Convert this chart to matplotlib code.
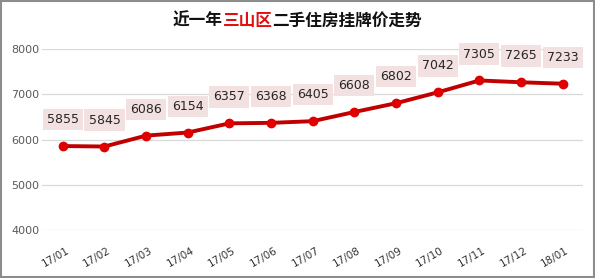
import matplotlib
matplotlib.use("Agg")
import matplotlib.pyplot as plt
import matplotlib.transforms as mtransforms
from matplotlib.patches import Rectangle

plt.rcParams['font.family'] = ['Noto Sans CJK SC', 'DejaVu Sans']

months = ["17/01", "17/02", "17/03", "17/04", "17/05", "17/06", "17/07",
          "17/08", "17/09", "17/10", "17/11", "17/12", "18/01"]
prices = [5855, 5845, 6086, 6154, 6357, 6368, 6405, 6608, 6802, 7042, 7305, 7265, 7233]
yticks = [4000, 5000, 6000, 7000, 8000]
title_parts = [("近一年", "#111111"), ("三山区", "#e01010"), ("二手住房挂牌价走势", "#111111")]

fig = plt.figure(figsize=(5.95, 2.78), dpi=100)
fig.patch.set_facecolor("white")
fig.patches.append(Rectangle((0.002, 0.004), 0.996, 0.992, transform=fig.transFigure,
                             fill=False, edgecolor="#8c8c8c", linewidth=1.5))

ax = fig.add_axes([0.0706, 0.1727, 0.91, 0.651])
x = list(range(len(months)))
ax.plot(x, prices, color="#c00000", linewidth=2.8, marker="o", markersize=6,
        markerfacecolor="#e00000", markeredgecolor="#e00000", zorder=3)

ax.set_xlim(-0.5, len(months) - 0.5)
ax.set_ylim(4000, 8000)
ax.set_yticks(yticks)
ax.set_yticklabels([str(v) for v in yticks], fontsize=8, color="#595959",
                   family=["DejaVu Sans"])
ax.grid(axis="y", color="#d9d9d9", linewidth=0.9)
ax.set_axisbelow(True)
for s in ax.spines.values():
    s.set_visible(False)
ax.tick_params(axis="both", length=0)
ax.tick_params(axis="y", pad=2)

ax.set_xticks(x)
ax.set_xticklabels(months, fontsize=7.5, color="#333333", rotation=30,
                   ha="right", va="top", rotation_mode="anchor",
                   family=["DejaVu Sans"])
ax.tick_params(axis="x", pad=11)
offset = mtransforms.ScaledTranslation(3 / 100, 0, fig.dpi_scale_trans)
for lab in ax.get_xticklabels():
    lab.set_transform(lab.get_transform() + offset)

for xi, p in zip(x, prices):
    ax.annotate(str(p), xy=(xi, p), xytext=(0, 19), textcoords="offset points",
                ha="center", va="center", fontsize=9, color="#262626",
                family=["DejaVu Sans"],
                bbox=dict(boxstyle="square,pad=0.33", facecolor="#f3e1e1",
                          edgecolor="none"), zorder=4)

# Title composed from coloured pieces
fig.canvas.draw()
renderer = fig.canvas.get_renderer()
texts = []
for s, c in title_parts:
    t = fig.text(0, 0.925, s, color=c, fontsize=12, fontweight="bold",
                 ha="left", va="center")
    texts.append(t)
widths = [t.get_window_extent(renderer).width for t in texts]
total = sum(widths)
W = fig.get_figwidth() * fig.dpi
start = (W - total) / 2
for t, w in zip(texts, widths):
    t.set_x(start / W)
    start += w

fig.savefig("out.png", dpi=100)
